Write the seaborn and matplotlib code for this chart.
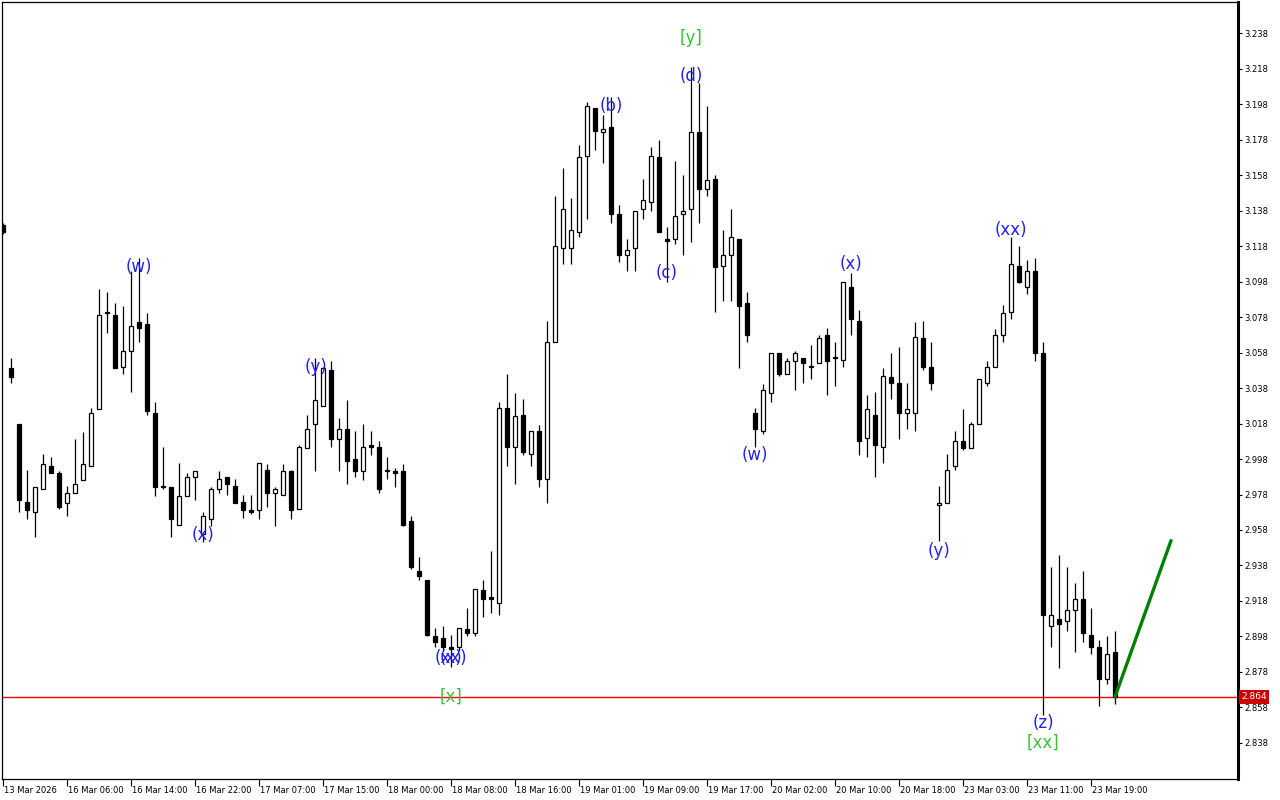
import matplotlib
matplotlib.use("Agg")
import matplotlib.pyplot as plt
import seaborn as sns
import pandas as pd
import numpy as np
from matplotlib.transforms import blended_transform_factory

# ---------------- data ----------------
opens = [
    3.130, 3.049, 3.018, 2.974, 2.968, 2.981, 2.994, 2.990, 2.973, 2.979,
    2.986, 2.994, 3.026, 3.081, 3.079, 3.050, 3.059, 3.075, 3.074, 3.024,
    2.983, 2.982, 2.961, 2.977, 2.988, 2.956, 2.964, 2.981, 2.988, 2.983,
    2.974, 2.969, 2.969, 2.992, 2.979, 2.978, 2.991, 2.970, 3.004, 3.018,
    3.028, 3.048, 3.009, 3.015, 2.998, 2.991, 3.006, 3.005, 2.991, 2.991,
    2.991, 2.963, 2.935, 2.930, 2.898, 2.897, 2.892, 2.892, 2.902, 2.900,
    2.924, 2.920, 2.917, 3.027, 3.005, 3.023, 3.001, 3.014, 2.987, 3.064,
    3.117, 3.117, 3.126, 3.169, 3.196, 3.182, 3.185, 3.136, 3.113, 3.117,
    3.139, 3.143, 3.168, 3.122, 3.122, 3.136, 3.139, 3.182, 3.150, 3.156,
    3.107, 3.113, 3.122, 3.086, 3.024, 3.014, 3.035, 3.058, 3.046, 3.053,
    3.055, 3.050, 3.052, 3.068, 3.055, 3.054, 3.095, 3.076, 3.010, 3.023,
    3.005, 3.044, 3.041, 3.024, 3.024, 3.066, 3.050, 2.972, 2.973, 2.994,
    3.008, 3.004, 3.018, 3.041, 3.050, 3.068, 3.081, 3.107, 3.095, 3.104,
    3.058, 2.904, 2.908, 2.907, 2.913, 2.919, 2.899, 2.892, 2.874, 2.889,
]
highs = [
    3.131, 3.055, 3.018, 2.992, 2.982, 3.001, 2.999, 2.991, 2.983, 3.009,
    3.013, 3.027, 3.094, 3.092, 3.086, 3.084, 3.104, 3.111, 3.080, 3.030,
    3.005, 2.982, 2.996, 2.990, 2.991, 2.968, 2.982, 2.991, 2.988, 2.987,
    2.978, 2.978, 2.996, 2.995, 2.982, 2.995, 2.992, 3.006, 3.023, 3.055,
    3.050, 3.053, 3.021, 3.031, 3.014, 3.018, 3.014, 3.008, 2.999, 2.993,
    2.995, 2.966, 2.943, 2.930, 2.903, 2.904, 2.899, 2.903, 2.914, 2.925,
    2.930, 2.946, 3.030, 3.046, 3.035, 3.032, 3.014, 3.017, 3.076, 3.146,
    3.162, 3.145, 3.175, 3.199, 3.196, 3.192, 3.202, 3.141, 3.122, 3.138,
    3.156, 3.174, 3.178, 3.129, 3.166, 3.158, 3.219, 3.210, 3.197, 3.158,
    3.127, 3.139, 3.122, 3.092, 3.027, 3.040, 3.058, 3.058, 3.055, 3.059,
    3.055, 3.062, 3.068, 3.072, 3.064, 3.098, 3.103, 3.082, 3.034, 3.036,
    3.049, 3.058, 3.061, 3.041, 3.075, 3.076, 3.064, 2.983, 3.001, 3.014,
    3.026, 3.019, 3.043, 3.053, 3.071, 3.085, 3.123, 3.118, 3.110, 3.111,
    3.064, 2.937, 2.944, 2.937, 2.928, 2.935, 2.914, 2.896, 2.898, 2.901,
]
lows = [
    3.125, 3.041, 2.968, 2.964, 2.954, 2.981, 2.990, 2.970, 2.966, 2.979,
    2.986, 2.994, 3.026, 3.069, 3.049, 3.046, 3.036, 3.064, 3.023, 2.977,
    2.981, 2.954, 2.961, 2.977, 2.975, 2.951, 2.960, 2.979, 2.978, 2.973,
    2.965, 2.967, 2.964, 2.971, 2.960, 2.978, 2.964, 2.970, 3.004, 2.991,
    3.028, 3.005, 2.991, 2.984, 2.988, 2.986, 3.000, 2.979, 2.987, 2.982,
    2.960, 2.936, 2.930, 2.898, 2.892, 2.890, 2.881, 2.890, 2.898, 2.898,
    2.909, 2.911, 2.910, 2.994, 2.984, 3.000, 2.994, 2.982, 2.973, 3.064,
    3.108, 3.108, 3.123, 3.133, 3.172, 3.165, 3.131, 3.109, 3.104, 3.104,
    3.133, 3.138, 3.126, 3.098, 3.119, 3.113, 3.120, 3.131, 3.146, 3.081,
    3.087, 3.087, 3.049, 3.064, 3.005, 3.012, 3.030, 3.045, 3.046, 3.037,
    3.041, 3.043, 3.052, 3.034, 3.039, 3.050, 3.068, 3.000, 2.999, 2.988,
    2.996, 3.032, 3.009, 3.015, 3.014, 3.048, 3.037, 2.952, 2.973, 2.992,
    3.003, 3.004, 3.018, 3.039, 3.050, 3.064, 3.077, 3.097, 3.091, 3.053,
    2.854, 2.892, 2.880, 2.901, 2.889, 2.895, 2.888, 2.859, 2.871, 2.860,
]
closes = [
    3.126, 3.044, 2.975, 2.969, 2.982, 2.995, 2.990, 2.971, 2.979, 2.984,
    2.995, 3.024, 3.079, 3.080, 3.049, 3.059, 3.073, 3.072, 3.025, 2.982,
    2.982, 2.964, 2.977, 2.988, 2.991, 2.966, 2.981, 2.987, 2.984, 2.973,
    2.969, 2.968, 2.996, 2.979, 2.981, 2.991, 2.969, 3.005, 3.015, 3.031,
    3.049, 3.009, 3.015, 2.997, 2.991, 3.005, 3.005, 2.981, 2.992, 2.990,
    2.961, 2.937, 2.932, 2.899, 2.895, 2.892, 2.891, 2.903, 2.900, 2.925,
    2.919, 2.919, 3.027, 3.005, 3.022, 3.002, 3.014, 2.987, 3.064, 3.118,
    3.139, 3.127, 3.168, 3.197, 3.183, 3.184, 3.136, 3.113, 3.116, 3.138,
    3.144, 3.169, 3.126, 3.121, 3.135, 3.138, 3.182, 3.150, 3.155, 3.106,
    3.113, 3.123, 3.084, 3.068, 3.015, 3.037, 3.058, 3.046, 3.053, 3.058,
    3.052, 3.050, 3.066, 3.053, 3.055, 3.098, 3.077, 3.008, 3.026, 3.006,
    3.045, 3.041, 3.024, 3.026, 3.067, 3.050, 3.041, 2.973, 2.992, 3.008,
    3.004, 3.018, 3.043, 3.050, 3.068, 3.080, 3.108, 3.098, 3.104, 3.058,
    2.910, 2.910, 2.905, 2.913, 2.919, 2.900, 2.892, 2.874, 2.888, 2.864,
]

time_labels = ["13 Mar 2026", "16 Mar 06:00", "16 Mar 14:00", "16 Mar 22:00",
               "17 Mar 07:00", "17 Mar 15:00", "18 Mar 00:00", "18 Mar 08:00",
               "18 Mar 16:00", "19 Mar 01:00", "19 Mar 09:00", "19 Mar 17:00",
               "20 Mar 02:00", "20 Mar 10:00", "20 Mar 18:00", "23 Mar 03:00",
               "23 Mar 11:00", "23 Mar 19:00"]
label_every = 8

price_ticks = [2.838, 2.858, 2.878, 2.898, 2.918, 2.938, 2.958, 2.978, 2.998,
               3.018, 3.038, 3.058, 3.078, 3.098, 3.118, 3.138, 3.158, 3.178,
               3.198, 3.218, 3.238]
current_price = 2.864

# projection line (bar index, price)
proj_x = [139, 146]
proj_y = [2.864, 2.952]

# wave labels: text, bar index, price, colour kind
wave_text = ["(w)", "(x)", "(y)", "(xx)", "(x)", "[x]", "(b)", "[y]", "(d)", "(c)",
             "(w)", "(x)", "(y)", "(xx)", "(z)", "[xx]"]
wave_bar = [17, 25, 39.1, 56, 56, 56, 76, 86, 86, 83, 94, 106, 117, 126, 130, 130]
wave_price = [3.106, 2.955, 3.050, 2.886, 2.886, 2.864, 3.197, 3.235, 3.214, 3.103,
              3.000, 3.108, 2.946, 3.127, 2.849, 2.838]
wave_kind = ["b", "b", "b", "b", "b", "g", "b", "g", "b", "b",
             "b", "b", "b", "b", "b", "g"]

# ---------------- drawing ----------------
sns.set_style("white")
plt.rcParams['font.family'] = ['DejaVu Sans']

fig = plt.figure(figsize=(12.8, 8), dpi=100)
fig.patch.set_facecolor("white")
ax = fig.add_axes([2 / 1280, 21 / 800, 1236 / 1280, 777 / 800])
ax.set_facecolor("white")

o = np.array(opens); h = np.array(highs); l = np.array(lows); c = np.array(closes)
idx = np.arange(len(o))
up = c >= o
bottoms = np.minimum(o, c)
heights = np.maximum(np.abs(c - o), 0.0003)

ax.vlines(idx, l, h, color="black", lw=0.9, zorder=2)
ax.bar(idx[up], heights[up], bottom=bottoms[up], width=0.55,
       facecolor="white", edgecolor="black", linewidth=0.9, zorder=3)
ax.bar(idx[~up], heights[~up], bottom=bottoms[~up], width=0.55,
       facecolor="black", edgecolor="black", linewidth=0.9, zorder=3)

# current price line
ax.axhline(current_price, color="#ff0000", lw=1.0, zorder=1)

# projection line
proj_df = pd.DataFrame({"bar": proj_x, "price": proj_y})
sns.lineplot(data=proj_df, x="bar", y="price", ax=ax, color="#008000", lw=2.4,
             zorder=4, legend=False)

# wave labels
colors = {"b": "#2222ee", "g": "#3cc03c"}
for t, xb, yp, k in zip(wave_text, wave_bar, wave_price, wave_kind):
    ax.text(xb, yp, t, ha="center", va="center", fontsize=12,
            color=colors[k], zorder=5)

ax.set_xlim(-0.125, 154.375)
ax.set_ylim(2.8177, 3.2555)
ax.set_xlabel("")
ax.set_ylabel("")

# y axis on right
ax.yaxis.tick_right()
ax.set_yticks(price_ticks)
ax.set_yticklabels([f"{v:.3f}" for v in price_ticks])
ax.tick_params(axis="y", which="both", right=True, left=False, direction="out",
               length=3, width=0.8, pad=1.5, labelsize=6, colors="black")

# x axis ticks + labels
xt = [i * label_every for i in range(len(time_labels))]
ax.set_xticks(xt)
ax.set_xticklabels([])
ax.tick_params(axis="x", bottom=True, direction="out", length=5, width=0.8,
               colors="black")
trans = blended_transform_factory(ax.transData, ax.transAxes)
for xv, lab in zip(xt, time_labels):
    ax.text(xv + 0.15, -0.0142, lab, transform=trans, ha="left", va="center",
            fontsize=6, color="black", clip_on=False)

# spines
for side in ["left", "top", "bottom"]:
    ax.spines[side].set_visible(True)
    ax.spines[side].set_color("black")
    ax.spines[side].set_linewidth(0.9)
ax.spines["right"].set_visible(True)
ax.spines["right"].set_color("black")
ax.spines["right"].set_linewidth(2.2)

# current price tag
ptrans = blended_transform_factory(ax.transAxes, ax.transData)
ax.text(1.0 + 3 / 1236, current_price, f"{current_price:.3f}", transform=ptrans,
        ha="left", va="center", fontsize=6.5, color="white", clip_on=False, zorder=6,
        bbox=dict(boxstyle="square,pad=0.25", fc="#cc0000", ec="none"))

fig.savefig("out.png", dpi=100, facecolor="white")
